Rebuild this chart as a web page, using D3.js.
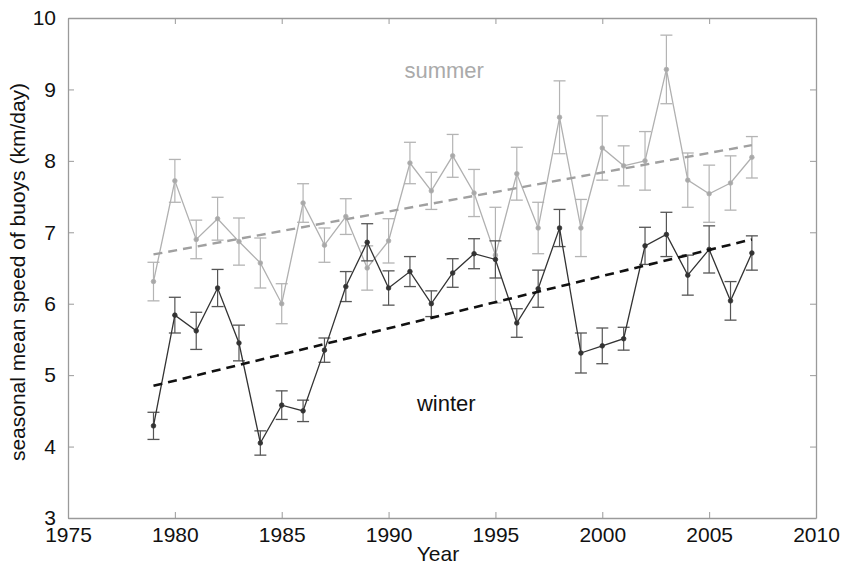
<!DOCTYPE html>
<html>
<head>
<meta charset="utf-8">
<script src="https://cdn.jsdelivr.net/npm/d3@7"></script>
<style>
  body { margin: 0; background: #fff; }
  text { font-family: "Liberation Sans", Arial, Helvetica, sans-serif; }
</style>
</head>
<body>
<svg id="chart" width="843" height="567"></svg>
<script>
const years = d3.range(1979, 2008)

const summerMean = [6.31, 7.72, 6.90, 7.19, 6.87, 6.57, 6.00, 7.41, 6.82, 7.22,
    6.50, 6.88, 7.97, 7.58, 8.07, 7.55, 6.68, 7.82, 7.06, 8.61,
    7.06, 8.18, 7.93, 8.00, 9.28, 7.73, 7.54, 7.69, 8.05]
const summerErr = [0.27, 0.30, 0.27, 0.30, 0.33, 0.35, 0.28, 0.27, 0.24, 0.25,
    0.31, 0.31, 0.29, 0.26, 0.30, 0.33, 0.67, 0.37, 0.36, 0.51,
    0.40, 0.45, 0.28, 0.41, 0.48, 0.38, 0.40, 0.38, 0.29]

const winterMean = [4.29, 5.84, 5.62, 6.22, 5.45, 4.05, 4.58, 4.50, 5.35, 6.24,
    6.86, 6.22, 6.45, 6.00, 6.43, 6.70, 6.62, 5.73, 6.21, 7.06,
    5.31, 5.41, 5.51, 6.81, 6.97, 6.40, 6.76, 6.04, 6.71]
const winterErr = [0.19, 0.25, 0.26, 0.26, 0.25, 0.17, 0.20, 0.15, 0.17, 0.21,
    0.26, 0.24, 0.21, 0.18, 0.20, 0.21, 0.26, 0.20, 0.26, 0.26,
    0.28, 0.25, 0.16, 0.26, 0.31, 0.28, 0.33, 0.27, 0.24]

// linear trend end points (1979, 2007)
const trendYears = [1979, 2007]
const summerTrend = [6.69, 8.22]
const winterTrend = [4.85, 6.90]

const xTicks = [1975, 1980, 1985, 1990, 1995, 2000, 2005, 2010]
const yTicks = [3, 4, 5, 6, 7, 8, 9, 10]

const SVG = d3.select("#chart")
const Width = 843
const Height = 567
const Margin = { top: 18, right: 27, bottom: 49, left: 68 }
const innerWidth = Width - Margin.left - Margin.right
const innerHeight = Height - Margin.top - Margin.bottom

const xscale = d3.scaleLinear().domain([1975, 2010]).range([0, innerWidth])
const yscale = d3.scaleLinear().domain([3, 10]).range([innerHeight, 0])

const g = SVG.append("g").attr("transform", `translate(${Margin.left}, ${Margin.top})`)

const axisColor = "#9a9a9a"

// box axes with inward ticks, labels only on bottom/left
const bottomAxis = d3.axisBottom(xscale).tickValues(xTicks).tickSizeInner(-6).tickSizeOuter(0).tickPadding(9).tickFormat(d3.format("d"))
const upperAxis = d3.axisTop(xscale).tickValues(xTicks).tickSizeInner(-6).tickSizeOuter(0).tickFormat("")
const leftAxis = d3.axisLeft(yscale).tickValues(yTicks).tickSizeInner(-6).tickSizeOuter(0).tickPadding(12).tickFormat(d3.format("d"))
const rightAxis = d3.axisRight(yscale).tickValues(yTicks).tickSizeInner(-6).tickSizeOuter(0).tickFormat("")

function styleAxis(sel) {
    sel.select(".domain").attr("stroke", axisColor).attr("stroke-width", 1.3)
    sel.selectAll(".tick line").attr("stroke", axisColor).attr("stroke-width", 1)
    sel.selectAll(".tick text").attr("fill", "#111").style("font-size", "21px")
}

g.append("g").attr("transform", `translate(0, ${innerHeight})`).call(bottomAxis).call(styleAxis)
g.append("g").call(upperAxis).call(styleAxis)
g.append("g").call(leftAxis).call(styleAxis)
g.append("g").attr("transform", `translate(${innerWidth}, 0)`).call(rightAxis).call(styleAxis)

// axis titles
SVG.append("text")
    .text("Year")
    .attr("x", Margin.left + innerWidth / 2 - 4)
    .attr("y", 561)
    .style("text-anchor", "middle")
    .style("font-size", "21px")
    .attr("fill", "#111")

SVG.append("text")
    .text("seasonal mean speed of buoys (km/day)")
    .attr("transform", `translate(25, ${Margin.top + innerHeight / 2 + 4}) rotate(-90)`)
    .style("text-anchor", "middle")
    .style("font-size", "21px")
    .attr("fill", "#111")

function drawSeries(means, errs, lineColor, barColor, markColor) {
    const data = years.map((yr, i) => ({ year: yr, v: means[i], e: errs[i] }))

    const bars = g.append("g")
    data.forEach(d => {
        const cx = xscale(d.year)
        bars.append("line")
            .attr("x1", cx).attr("x2", cx)
            .attr("y1", yscale(d.v + d.e)).attr("y2", yscale(d.v - d.e))
            .attr("stroke", barColor).attr("stroke-width", 1.2)
        bars.append("line")
            .attr("x1", cx - 6).attr("x2", cx + 6)
            .attr("y1", yscale(d.v + d.e)).attr("y2", yscale(d.v + d.e))
            .attr("stroke", barColor).attr("stroke-width", 1.3)
        bars.append("line")
            .attr("x1", cx - 6).attr("x2", cx + 6)
            .attr("y1", yscale(d.v - d.e)).attr("y2", yscale(d.v - d.e))
            .attr("stroke", barColor).attr("stroke-width", 1.3)
    })

    g.append("path")
        .datum(data)
        .attr("fill", "none")
        .attr("stroke", lineColor)
        .attr("stroke-width", 1.3)
        .attr("d", d3.line().x(d => xscale(d.year)).y(d => yscale(d.v)))

    g.append("g").selectAll("circle")
        .data(data)
        .join("circle")
        .attr("cx", d => xscale(d.year))
        .attr("cy", d => yscale(d.v))
        .attr("r", 2.3)
        .attr("fill", markColor)
        .attr("stroke", lineColor)
        .attr("stroke-width", 0.8)
}

function drawTrend(vals, color, width) {
    g.append("path")
        .datum(trendYears.map((yr, i) => [yr, vals[i]]))
        .attr("fill", "none")
        .attr("stroke", color)
        .attr("stroke-width", width)
        .attr("stroke-dasharray", "9,6")
        .attr("d", d3.line().x(d => xscale(d[0])).y(d => yscale(d[1])))
}

drawSeries(summerMean, summerErr, "#b0b0b0", "#b4b4b4", "#a8a8a8")
drawTrend(summerTrend, "#a0a0a0", 2.4)

drawSeries(winterMean, winterErr, "#333", "#555", "#333")
drawTrend(winterTrend, "#111", 2.6)

// series labels
g.append("text")
    .text("summer")
    .attr("x", xscale(1992.6))
    .attr("y", 78 - Margin.top)
    .style("text-anchor", "middle")
    .style("font-size", "22px")
    .attr("fill", "#aaa")

g.append("text")
    .text("winter")
    .attr("x", xscale(1992.7))
    .attr("y", 411 - Margin.top)
    .style("text-anchor", "middle")
    .style("font-size", "22px")
    .attr("fill", "#111")
</script>
</body>
</html>
